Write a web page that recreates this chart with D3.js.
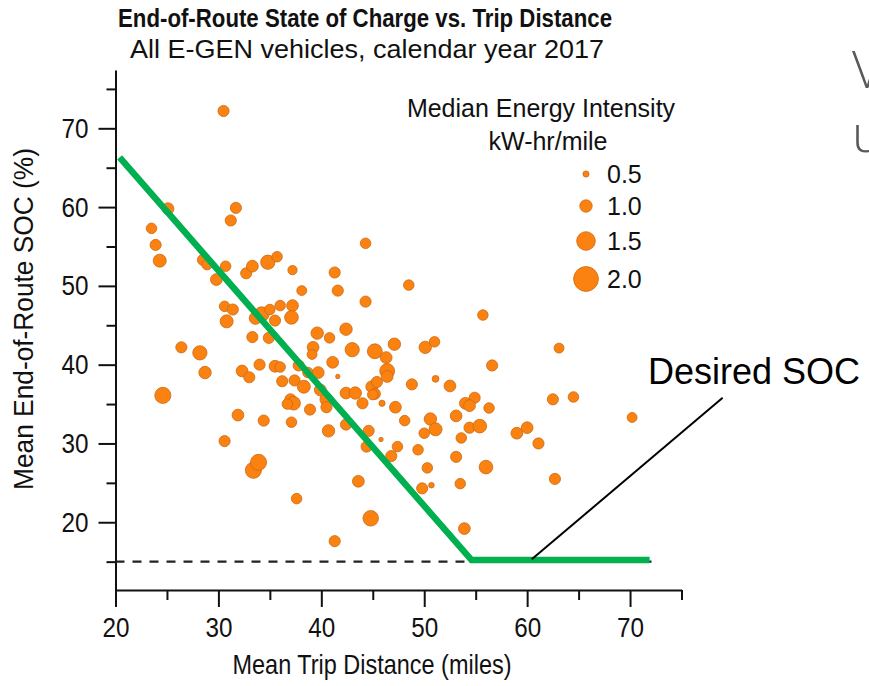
<!DOCTYPE html>
<html>
<head>
<meta charset="utf-8">
<script src="https://cdn.jsdelivr.net/npm/d3@7"></script>
<style>
  html, body { margin: 0; padding: 0; background: #fff; }
  svg { display: block; }
  .narrow { font-family: "Liberation Sans Narrow", "Arial Narrow", "Liberation Sans", Arial, sans-serif; }
  .reg { font-family: "Liberation Sans", Arial, sans-serif; }
</style>
</head>
<body>
<svg id="chart" width="869" height="686"></svg>
<script>
// ---- Data ----
const tripDistance = [30.5,25.1,31.7,31.2,23.5,23.9,24.3,28.5,28.9,30.7,32.7,33.3,34.8,35.7,37.2,29.8,44.3,41.3,41.6,38.1,
  44.3,30.6,31.4,30.8,34.2,35.0,36.0,37.2,37.1,35.5,33.3,34.9,39.6,40.8,42.4,43.0,45.2,39.2,39.1,41.1,
  26.4,28.2,28.7,32.3,33.0,34.0,35.5,36.0,36.2,37.4,38.3,37.8,38.7,39.7,41.6,39.9,42.4,43.3,44.9,45.2,
  44.0,40.5,37.0,37.3,36.7,38.9,40.5,31.9,34.4,37.1,40.7,42.4,44.6,30.6,48.5,55.7,46.3,47.1,46.4,46.4,
  50.1,51.0,56.6,45.4,45.0,45.9,47.2,48.8,51.1,52.5,48.1,50.6,51.1,50.0,53.1,54.0,54.9,54.4,56.3,54.4,
  55.4,53.6,63.1,62.5,64.5,70.2,59.0,60.0,61.1,62.7,45.8,44.4,47.4,46.8,49.4,50.3,50.7,49.8,53.1,56.0,
  53.5,33.4,33.9,37.6,43.6,44.8,41.3,53.9,24.6,33.6];
const endSOC = [72.2,59.8,59.9,58.3,57.3,55.2,53.2,53.3,52.7,52.5,51.6,52.5,53.0,53.7,52.0,50.8,55.4,51.7,49.4,49.4,
  48.0,47.4,47.0,45.5,46.4,47.0,47.5,47.5,46.0,45.6,43.5,43.4,44.0,43.4,44.5,41.9,41.7,42.2,41.3,40.3,
  42.2,41.5,39.0,39.2,38.4,40.0,39.8,39.7,37.9,38.0,37.2,39.9,39.0,39.0,38.5,36.8,36.4,36.4,37.2,36.3,
  35.1,35.6,35.6,35.1,35.0,34.3,34.6,33.6,32.9,32.7,31.6,32.4,31.6,30.3,50.1,46.3,40.9,42.6,39.2,38.5,
  42.2,42.9,39.9,37.8,36.2,35.1,34.6,37.5,38.2,37.3,32.9,33.1,31.8,31.3,33.5,35.1,35.8,34.8,34.5,32.0,
  32.2,30.7,42.1,35.6,35.9,33.3,31.3,32.0,30.0,25.5,30.5,29.6,29.6,28.4,29.2,26.9,24.7,24.3,28.3,27.0,
  24.9,26.6,27.6,23.0,25.2,20.5,17.6,19.2,36.1,45.9];
const energyIntensity = [0.9,0.95,0.9,0.9,0.85,0.9,1.05,0.9,0.85,0.85,0.9,0.95,1.15,0.85,0.75,0.95,0.85,0.9,0.9,0.8,
  0.9,0.85,0.9,1.05,1.2,0.85,0.85,0.95,1.1,0.9,0.9,0.9,1.0,0.85,1.0,1.15,1.2,0.95,0.8,0.95,
  0.9,1.15,1.0,0.95,0.9,0.9,0.95,0.85,0.9,0.9,1.05,0.9,0.85,0.95,0.35,0.95,0.95,1.0,0.95,0.9,
  0.9,1.05,0.9,1.1,0.85,0.9,0.9,0.95,0.9,0.85,1.0,0.9,0.9,0.9,0.85,0.85,0.95,1.0,1.2,0.95,
  1.0,0.85,0.9,0.9,0.85,0.5,0.95,0.9,0.55,0.95,0.85,1.0,1.05,0.85,0.95,0.95,0.9,0.95,0.85,0.9,
  1.1,0.85,0.8,0.9,0.85,0.8,0.95,0.95,0.9,0.9,0.35,0.9,0.85,0.9,0.85,0.85,0.45,0.9,0.9,1.1,
  0.85,1.3,1.3,0.85,0.95,1.25,0.9,0.95,1.3,1.0];

const legendValues = [0.5, 1.0, 1.5, 2.0];
const legendLabels = ["0.5", "1.0", "1.5", "2.0"];
const xTickValues = [20, 30, 40, 50, 60, 70];
const xMinorTicks = [25, 35, 45, 55, 65, 75];
const yTickValues = [20, 30, 40, 50, 60, 70];
const yMinorTicks = [15, 25, 35, 45, 55, 65, 75];

// Target SOC guide (green) and desired SOC (dashed)
const guideX = [20.4, 54.6, 71.9];
const guideY = [66.3, 15.2, 15.2];
const desiredSOC = 15;
const desiredExtent = [20, 72.5];
const annotLineX = [79.0, 60.45];
const annotLineY = [35.8, 15.3];
const annotTextPos = [71.75, 37.6];

const title = "End-of-Route State of Charge vs. Trip Distance";
const subtitle = "All E-GEN vehicles, calendar year 2017";
const xLabel = "Mean Trip Distance (miles)";
const yLabel = "Mean End-of-Route SOC (%)";
const legendTitle1 = "Median Energy Intensity";
const legendTitle2 = "kW-hr/mile";

// ---- Chart ----
const svg = d3.select("#chart");
const x = d3.scaleLinear().domain([20, 75]).range([115.5, 681.5]);
const y = d3.scaleLinear().domain([11.4, 77.4]).range([590, 70]);
const r = d3.scaleLinear().domain([0, 2]).range([0, 12.4]);

const fillC = "#fb8211", strokeC = "#c96a10";

// axes
svg.append("g").attr("transform", "translate(0,590)")
  .call(d3.axisBottom(x).tickValues(xTickValues).tickSize(17).tickSizeOuter(0).tickPadding(10).tickFormat(d3.format("d")));
svg.append("g").attr("transform", "translate(0,590)")
  .call(d3.axisBottom(x).tickValues(xMinorTicks).tickSize(10).tickSizeOuter(0).tickFormat(""))
  .select(".domain").remove();
svg.append("g").attr("transform", "translate(115.5,0)")
  .call(d3.axisLeft(y).tickValues(yTickValues).tickSize(17).tickSizeOuter(0).tickPadding(10).tickFormat(d3.format("d")));
svg.append("g").attr("transform", "translate(115.5,0)")
  .call(d3.axisLeft(y).tickValues(yMinorTicks).tickSize(9).tickSizeOuter(0).tickFormat(""))
  .select(".domain").remove();
svg.selectAll(".domain, .tick line").attr("stroke", "#111").attr("stroke-width", 2);
svg.selectAll(".tick text").attr("class", "narrow").attr("font-size", 28).attr("fill", "#111")
  .attr("textLength", 27).attr("lengthAdjust", "spacingAndGlyphs");

// desired SOC dashed line
svg.append("line")
  .attr("x1", x(desiredExtent[0])).attr("x2", x(desiredExtent[1]))
  .attr("y1", y(desiredSOC)).attr("y2", y(desiredSOC))
  .attr("stroke", "#222").attr("stroke-width", 2.2).attr("stroke-dasharray", "9,8");

// points
const pts = tripDistance.map((d, i) => ({x: d, y: endSOC[i], e: energyIntensity[i]}));
svg.append("g").selectAll("circle").data(pts).join("circle")
  .attr("cx", d => x(d.x)).attr("cy", d => y(d.y)).attr("r", d => r(d.e))
  .attr("fill", fillC).attr("stroke", strokeC).attr("stroke-width", 0.8);

// green guide
const line = d3.line().x(d => x(d[0])).y(d => y(d[1]));
svg.append("path").datum(guideX.map((d, i) => [d, guideY[i]]))
  .attr("d", line).attr("fill", "none").attr("stroke", "#00b050")
  .attr("stroke-width", 6.5).attr("stroke-linejoin", "miter");

// annotation
svg.append("path").datum(annotLineX.map((d, i) => [d, annotLineY[i]]))
  .attr("d", line).attr("fill", "none").attr("stroke", "#000").attr("stroke-width", 2);
svg.append("text").attr("class", "reg")
  .attr("x", x(annotTextPos[0])).attr("y", y(annotTextPos[1]))
  .attr("font-size", 36).attr("fill", "#000").text("Desired SOC");

// titles (condensed like the original narrow face)
function narrowText(txt, cx, cy, size, len, bold, rot) {
  const t = svg.append("text").attr("class", "narrow")
    .attr("text-anchor", "middle").attr("font-size", size).attr("fill", "#111")
    .attr("textLength", len).attr("lengthAdjust", "spacingAndGlyphs").text(txt);
  if (bold) t.attr("font-weight", "bold");
  if (rot) t.attr("transform", `translate(${cx},${cy}) rotate(-90)`);
  else t.attr("x", cx).attr("y", cy);
  return t;
}
narrowText(title, 365, 27, 26, 494, true, false);
narrowText(subtitle, 367, 58, 26, 474, false, false);
narrowText(xLabel, 372, 674, 28, 279, false, false);
narrowText(yLabel, 33, 319, 28, 342, false, true);

// legend
const lg = svg.append("g");
lg.append("text").attr("class", "reg").attr("x", 541).attr("y", 117).attr("text-anchor", "middle")
  .attr("font-size", 25).attr("fill", "#111").text(legendTitle1);
lg.append("text").attr("class", "reg").attr("x", 548).attr("y", 150).attr("text-anchor", "middle")
  .attr("font-size", 25).attr("fill", "#111").text(legendTitle2);
const legendY = [174, 206, 241, 279];
legendValues.forEach((v, i) => {
  lg.append("circle").attr("cx", 586).attr("cy", legendY[i]).attr("r", r(v))
    .attr("fill", fillC).attr("stroke", strokeC).attr("stroke-width", 0.8);
  lg.append("text").attr("class", "reg").attr("x", 607).attr("y", legendY[i] + 9)
    .attr("font-size", 25).attr("fill", "#111").text(legendLabels[i]);
});

// cut-off slide text at right edge
svg.append("text").attr("x", 852).attr("y", 88).attr("font-family", "'Open Sans', sans-serif")
  .attr("font-weight", 300).attr("font-size", 52).attr("fill", "#595959").text("V");
svg.append("text").attr("x", 852).attr("y", 152).attr("font-family", "'Open Sans', sans-serif")
  .attr("font-weight", 300).attr("font-size", 52).attr("fill", "#595959").text("u");
</script>
</body>
</html>
